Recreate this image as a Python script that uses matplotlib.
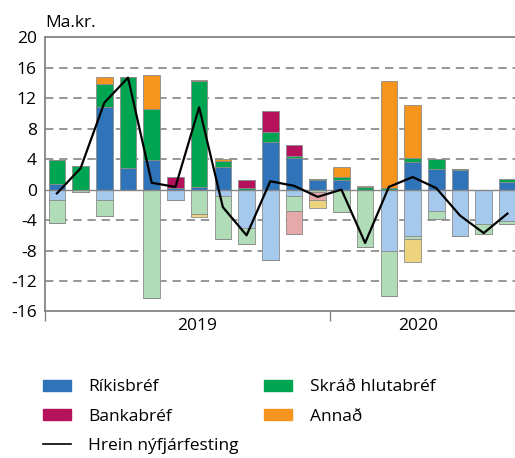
import numpy as np
import matplotlib.pyplot as plt
from matplotlib.patches import Patch
from matplotlib.lines import Line2D

plt.rcParams['font.family'] = ['Open Sans', 'DejaVu Sans']
plt.rcParams['axes.unicode_minus'] = False

# monthly, Jan 2019 - Aug 2020 (Ma.kr.)
rikis_pos = [0.8, 0, 10.9, 2.8, 3.85, 0.15, 0.3, 3.0, 0, 6.3, 4.2, 1.25, 1.3, 0, 0, 3.6, 2.75, 2.55, 0, 1.05]
hluta_pos = [3.05, 3.05, 2.95, 12.0, 6.7, 0, 13.9, 0.7, 0.25, 1.25, 0.2, 0.1, 0.35, 0.35, 0.15, 0.5, 1.25, 0.2, 0, 0.35]
banka_pos = [0, 0, 0, 0, 0, 1.5, 0, 0, 0.95, 2.8, 1.4, 0, 0, 0, 0, 0, 0, 0, 0, 0]
annad_pos = [0, 0, 0.95, 0, 4.45, 0, 0.25, 0.35, 0, 0, 0, 0, 1.35, 0.15, 14.05, 6.95, 0, 0, 0, 0]

rikis_neg = [-1.4, 0, -1.3, 0, 0, -1.3, 0, -0.9, -5.0, -9.3, -0.9, 0, 0, 0, -8.05, -6.05, -2.75, -6.05, -4.55, -4.1]
hluta_neg = [-3.0, -0.35, -2.1, 0, -14.2, 0, -3.25, -5.6, -2.2, 0, -1.9, -0.35, -3.0, -7.55, -5.9, -0.45, -1.15, -0.1, -1.25, -0.35]
banka_neg = [0, 0, 0, 0, 0, 0, 0, 0, 0, 0, -3.0, -1.05, 0, 0, 0, 0, 0, 0, 0, 0]
annad_neg = [0, 0, 0, 0, 0, 0, -0.4, 0, 0, 0, 0, -0.95, 0, 0, 0, -3.05, 0, 0, 0, 0]

hrein = [-0.5, 2.8, 11.4, 14.7, 0.9, 0.35, 10.8, -2.3, -6.0, 1.1, 0.5, -0.95, 0.0, -7.0, 0.35, 1.65, 0.2, -3.4, -5.7, -3.15]

years = ['2019', '2020']

dark = ['#2f74b9', '#00a551', '#b5125b', '#f6941e']
light = ['#a5c9ec', '#b1dcb8', '#e5a9a9', '#edd37e']

x = np.arange(len(hrein))

fig = plt.figure(figsize=(5.15, 4.58), dpi=100)
ax = fig.add_axes([0.0874, 0.3199, 0.9126, 0.5987])

gc = '#858585'
for v in [16, 12, 8, 4, -4, -8, -12]:
    ax.axhline(v, color=gc, lw=1.2, ls=(0, (5, 3.5)), zorder=0)
ax.axhline(0, color=gc, lw=1.0, zorder=3)

w = 0.7
ec = '#8c8c8c'
bot = np.zeros(len(x))
for vals, c in zip([rikis_pos, hluta_pos, banka_pos, annad_pos], dark):
    vals = np.array(vals)
    ax.bar(x, vals, w, bottom=bot, color=c, edgecolor=ec, lw=0.6, zorder=2)
    bot += vals
bot = np.zeros(len(x))
for vals, c in zip([rikis_neg, hluta_neg, banka_neg, annad_neg], light):
    vals = np.array(vals)
    ax.bar(x, vals, w, bottom=bot, color=c, edgecolor=ec, lw=0.6, zorder=2)
    bot += vals

ax.plot(x, hrein, color='black', lw=1.6, zorder=4)

ax.set_xlim(-0.5, 19.32)
ax.set_ylim(-16, 20)
ax.set_yticks(range(-16, 21, 4))
ax.tick_params(axis='y', length=0, pad=6, labelsize=12.5)
ax.set_xticks([-0.5, 11.5])
ax.set_xticklabels([])
ax.tick_params(axis='x', length=7, width=1.0, color=gc)
ax.set_xticks([5.9, 15.25], minor=True)
ax.set_xticklabels(years, minor=True)
ax.tick_params(axis='x', which='minor', length=0, pad=5, labelsize=12.5)

for s in ['left', 'bottom', 'top']:
    ax.spines[s].set_color(gc)
    ax.spines[s].set_linewidth(1.3)
ax.spines['right'].set_visible(False)

fig.text(0.0874, 0.95, 'Ma.kr.', fontsize=12.5, ha='left', va='center')

handles = [Patch(color=dark[0], label='Ríkisbréf'),
           Patch(color=dark[2], label='Bankabréf'),
           Line2D([], [], color='black', lw=1.2, label='Hrein nýfjárfesting'),
           Patch(color=dark[1], label='Skráð hlutabréf'),
           Patch(color=dark[3], label='Annað')]
fig.legend(handles=handles, loc='upper left', bbox_to_anchor=(0.083, 0.172),
           ncol=2, frameon=False, fontsize=12.5, handlelength=1.6,
           handleheight=0.6, handletextpad=1.0, labelspacing=0.78,
           columnspacing=1.5, borderaxespad=0, borderpad=0)

fig.savefig('out.png', dpi=100)
